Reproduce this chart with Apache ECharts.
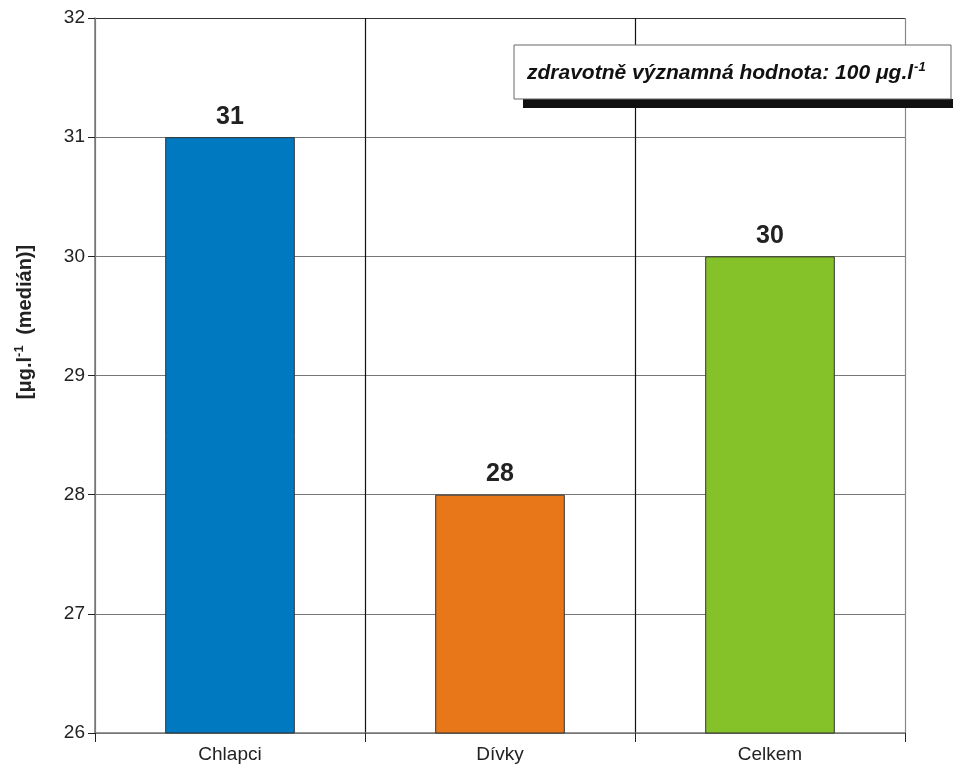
<!DOCTYPE html>
<html><head><meta charset="utf-8">
<script src="https://cdn.jsdelivr.net/npm/echarts@6/dist/echarts.min.js"></script>
<style>html,body{margin:0;padding:0;background:#fff}#c{width:953px;height:767px}</style>
</head><body><div id="c"></div>
<script>
const categories = ['Chlapci', 'Dívky', 'Celkem'];
const values = [31, 28, 30];
const barColors = ['#0179C1', '#E8771A', '#85C22A'];
const yTicks = { min: 26, max: 32, interval: 1 };
const noteText = 'zdravotně významná hodnota: 100 μg.l';
const yTitleA = '[μg.l';
const yTitleB = ' (medián)]';

const FF = 'Liberation Sans, Arial, sans-serif';
const chart = echarts.init(document.getElementById('c'));
chart.setOption({
  animation: false,
  grid: { left: 95, right: 48, top: 18, bottom: 34 },
  xAxis: {
    type: 'category', data: categories,
    axisLine: { lineStyle: { color: '#777', width: 1.5 } },
    axisTick: { show: true, length: 9, lineStyle: { color: '#222' } },
    axisLabel: { color: '#222', fontSize: 19, fontFamily: FF, margin: 12 },
    splitLine: { show: true, lineStyle: { color: ['#777', '#111', '#111', '#888'], width: 1.2 } }
  },
  yAxis: {
    type: 'value', min: yTicks.min, max: yTicks.max, interval: yTicks.interval,
    axisLine: { show: true, lineStyle: { color: '#777', width: 1.5 } },
    axisTick: { show: true, length: 7, lineStyle: { color: '#222' } },
    axisLabel: { color: '#222', fontSize: 19, fontFamily: FF, margin: 10 },
    splitLine: { show: true, lineStyle: { color: ['#777', '#777', '#777', '#777', '#777', '#777', '#333'], width: 1.2 } }
  },
  series: [{
    type: 'bar', barWidth: '48%',
    data: values.map((v, i) => ({ value: v, itemStyle: { color: barColors[i] } })),
    itemStyle: { borderColor: '#333', borderWidth: 1 },
    label: { show: true, position: 'top', distance: 8, fontSize: 25, fontWeight: 'bold', color: '#222', fontFamily: FF }
  }],
  graphic: [
    { type: 'text', x: 25, y: 322, rotation: Math.PI / 2, z: 12,
      style: {
        text: '{a|' + yTitleA + '}{s|-1}{a|' + yTitleB + '}',
        align: 'center', verticalAlign: 'middle',
        rich: {
          a: { fontSize: 20, fontWeight: 'bold', fill: '#222', fontFamily: FF },
          s: { fontSize: 13, fontWeight: 'bold', fill: '#222', fontFamily: FF, verticalAlign: 'top', padding: [0, 5, 12, 0] }
        }
      } },
    { type: 'rect', shape: { x: 523, y: 99, width: 430, height: 9 }, style: { fill: '#111' }, z: 10 },
    { type: 'rect', shape: { x: 514, y: 45, width: 437, height: 54 }, style: { fill: '#fff', stroke: '#666', lineWidth: 1 }, z: 11 },
    { type: 'text', x: 527, y: 73, z: 12,
      style: {
        text: '{a|' + noteText + '}{s|-1}',
        verticalAlign: 'middle',
        rich: {
          a: { fontSize: 21, fontWeight: 'bold', fontStyle: 'italic', fill: '#111', fontFamily: FF },
          s: { fontSize: 13, fontWeight: 'bold', fontStyle: 'italic', fill: '#111', fontFamily: FF, verticalAlign: 'top', padding: [0, 0, 12, 1] }
        }
      } }
  ]
});
</script></body></html>
